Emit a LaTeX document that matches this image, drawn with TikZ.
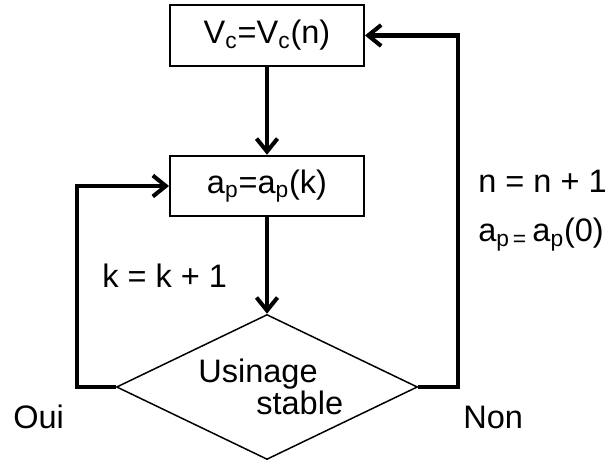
\documentclass[tikz,border=0pt]{standalone}
\usepackage{fontspec}
\setmainfont{Liberation Sans}
\usetikzlibrary{arrows.meta,calc,positioning,shapes.geometric}

\begin{document}
\begin{tikzpicture}[font=\fontsize{18.5}{22}\selectfont, line join=miter,
    box/.style={draw, line width=1.1pt, minimum width=3.88cm, minimum height=1.21cm, inner sep=0pt},
    decision/.style={draw, diamond, line width=0.85pt, inner sep=0pt, minimum width=6.02cm, minimum height=2.9cm},
    flow/.style={line width=2.3pt, -{Straight Barb[length=2.6mm, width=4.2mm]}}]
    \useasboundingbox (0,0) rectangle (12.18,9.22);

    \node[box] (vc) at (5.34,8.51) {V\textsubscript{c}=V\textsubscript{c}(n)};
    \node[box] (ap) at (5.34,5.5) {a\textsubscript{p}=a\textsubscript{p}(k)};
    \node[decision] (stable) at (5.34,1.48) {};
    \coordinate (ouiTurn) at (1.54,1.48);
    \coordinate (nonTurn) at (9.16,1.48);

    \draw[flow] (vc) -- (ap);
    \draw[flow] (ap) -- (stable);
    \draw[flow] (stable.west) -- (ouiTurn) |- (ap.west);
    \draw[flow] (stable.east) -- (nonTurn) |- (vc.east);

    \foreach \x/\y/\name/\txt in {
        3.96/1.56/usinage/Usinage,
        5.12/0.92/stab/stable,
        2.04/3.46/kinc/{k = k + 1},
        9.56/5.36/ninc/{n = n + 1},
        9.56/4.38/apreset/{a\textsubscript{p\,=}\,a\textsubscript{p}(0)},
        0.26/0.64/oui/Oui,
        9.26/0.64/non/Non}
    {
        \node[anchor=base west, inner sep=0pt] (\name) at (\x,\y) {\txt};
    }
\end{tikzpicture}
\end{document}
